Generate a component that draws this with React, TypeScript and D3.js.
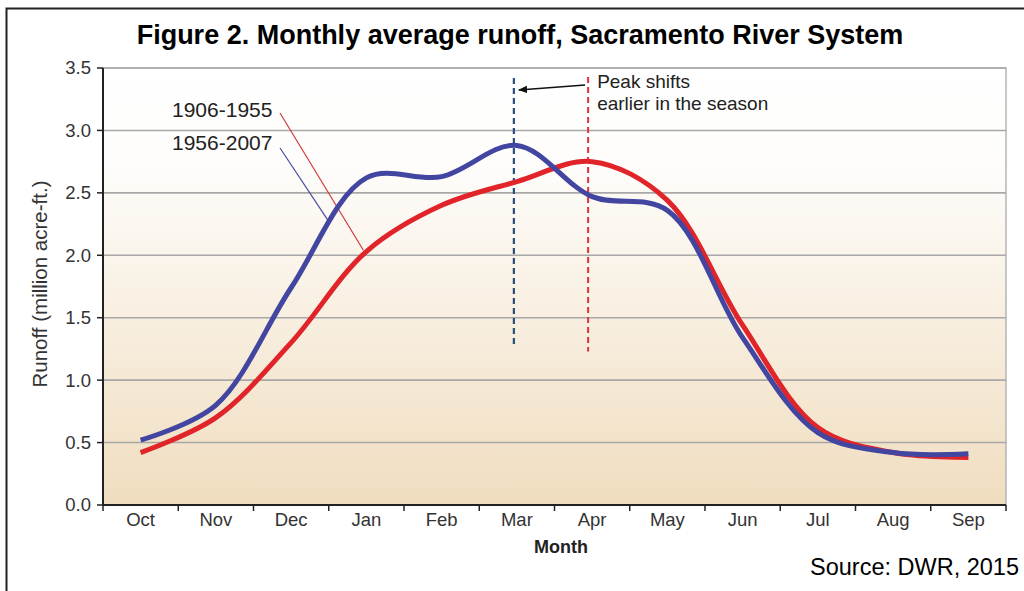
import React from "react";
import * as d3 from "d3";

const months = ["Oct", "Nov", "Dec", "Jan", "Feb", "Mar", "Apr", "May", "Jun", "Jul", "Aug", "Sep"];
const early = [0.42, 0.7, 1.3, 2.03, 2.4, 2.59, 2.75, 2.44, 1.44, 0.62, 0.42, 0.38];
const late = [0.52, 0.8, 1.74, 2.62, 2.63, 2.88, 2.47, 2.36, 1.34, 0.58, 0.42, 0.41];
const yTicks = [0, 0.5, 1, 1.5, 2, 2.5, 3, 3.5];
const seriesNames = ["1906-1955", "1956-2007"];

const W = 1024;
const H = 591;
const margin = { left: 103, right: 18, top: 68, bottom: 86 };

const App: React.FC = () => {
  const innerW = W - margin.left - margin.right;
  const innerH = H - margin.top - margin.bottom;
  const x = d3.scaleBand().domain(months).range([0, innerW]);
  const y = d3.scaleLinear().domain([0, 3.5]).range([innerH, 0]);
  const cx = (m: string) => (x(m) ?? 0) + x.bandwidth() / 2;

  const line = d3
    .line<number>()
    .x((_, i) => cx(months[i]))
    .y((d) => y(d))
    .curve(d3.curveCatmullRom.alpha(0.5));

  const font = "'Liberation Sans', Arial, sans-serif";
  const peakLate = cx("Mar") - 3;
  const peakEarly = cx("Apr") - 4;

  return (
    <svg width={W} height={H} style={{ position: "absolute", left: 0, top: 0, fontFamily: font }}>
      <defs>
        <linearGradient id="bg" x1="0" y1="0" x2="0" y2="1">
          <stop offset="0" stopColor="#ffffff" />
          <stop offset="0.22" stopColor="#fefdfb" />
          <stop offset="1" stopColor="#f0ddbf" />
        </linearGradient>
        <marker id="arr" viewBox="0 0 10 10" refX="9" refY="5" markerWidth="7" markerHeight="7" orient="auto">
          <path d="M0,1 L10,5 L0,9 z" fill="#111" />
        </marker>
      </defs>
      <rect x={0} y={0} width={W} height={H} fill="#fff" />
      <rect x={6.5} y={8.5} width={W + 20} height={H + 20} fill="none" stroke="#222" strokeWidth={2} />

      <text x={520} y={44} textAnchor="middle" fontSize={27} fontWeight="bold" fill="#000">
        Figure 2. Monthly average runoff, Sacramento River System
      </text>

      <g transform={`translate(${margin.left},${margin.top})`}>
        <rect x={0} y={0} width={innerW} height={innerH} fill="url(#bg)" stroke="#b5b5b5" strokeWidth={1.5} />
        {yTicks.map((t) => (
          <g key={t}>
            {t > 0 && <line x1={0} x2={innerW} y1={y(t)} y2={y(t)} stroke="#a8a8a8" strokeWidth={1.6} />}
            <line x1={-6} x2={0} y1={y(t)} y2={y(t)} stroke="#222" strokeWidth={1.5} />
            <text x={-12} y={y(t)} dy="0.35em" textAnchor="end" fontSize={18.5} fill="#333">
              {t.toFixed(1)}
            </text>
          </g>
        ))}
        <line x1={0} x2={0} y1={0} y2={innerH} stroke="#222" strokeWidth={2} />
        <line x1={0} x2={innerW} y1={innerH} y2={innerH} stroke="#222" strokeWidth={2} />
        {months.map((m, i) => (
          <g key={m}>
            <line x1={(x(m) ?? 0) + x.bandwidth()} x2={(x(m) ?? 0) + x.bandwidth()} y1={innerH} y2={innerH + 6} stroke="#222" strokeWidth={1.5} />
            {i === 0 && <line x1={0} x2={0} y1={innerH} y2={innerH + 6} stroke="#222" strokeWidth={1.5} />}
            <text x={cx(m)} y={innerH + 21} textAnchor="middle" fontSize={18.5} fill="#333">
              {m}
            </text>
          </g>
        ))}

        {/* peak markers */}
        <line x1={peakLate} x2={peakLate} y1={10} y2={y(1.27)} stroke="#2b4f7c" strokeWidth={2.2} strokeDasharray="6,4" />
        <line x1={peakEarly} x2={peakEarly} y1={9} y2={y(1.23)} stroke="#e0303a" strokeWidth={2} strokeDasharray="6,4" />
        <line x1={peakEarly - 3} y1={17} x2={peakLate + 5} y2={22} stroke="#111" strokeWidth={1.3} markerEnd="url(#arr)" />
        <text x={peakEarly + 9} y={20} fontSize={19} fill="#222">Peak shifts</text>
        <text x={peakEarly + 9} y={42} fontSize={19} fill="#222">earlier in the season</text>

        {/* series labels with leader lines */}
        <text x={69} y={49} fontSize={21} fill="#222">{seriesNames[0]}</text>
        <text x={69} y={82} fontSize={21} fill="#222">{seriesNames[1]}</text>
        <line x1={177} y1={45} x2={cx("Jan") - 3} y2={y(2.04)} stroke="#d03a3a" strokeWidth={1.2} />
        <line x1={177} y1={80} x2={225} y2={y(2.28)} stroke="#4a4aa0" strokeWidth={1.2} />

        <path d={line(early) ?? ""} fill="none" stroke="#e0242a" strokeWidth={5} strokeLinejoin="round" />
        <path d={line(late) ?? ""} fill="none" stroke="#4246a0" strokeWidth={5} strokeLinejoin="round" />
      </g>

      <text
        transform={`translate(47,${margin.top + y(1.77)}) rotate(-90)`}
        textAnchor="middle"
        fontSize={20.5}
        fill="#333"
      >
        Runoff (million acre-ft.)
      </text>
      <text x={561} y={553} textAnchor="middle" fontSize={18} fontWeight="bold" fill="#222">
        Month
      </text>
      <text x={1019} y={575} textAnchor="end" fontSize={23.5} fill="#000">
        Source: DWR, 2015
      </text>
    </svg>
  );
};

export default App;
